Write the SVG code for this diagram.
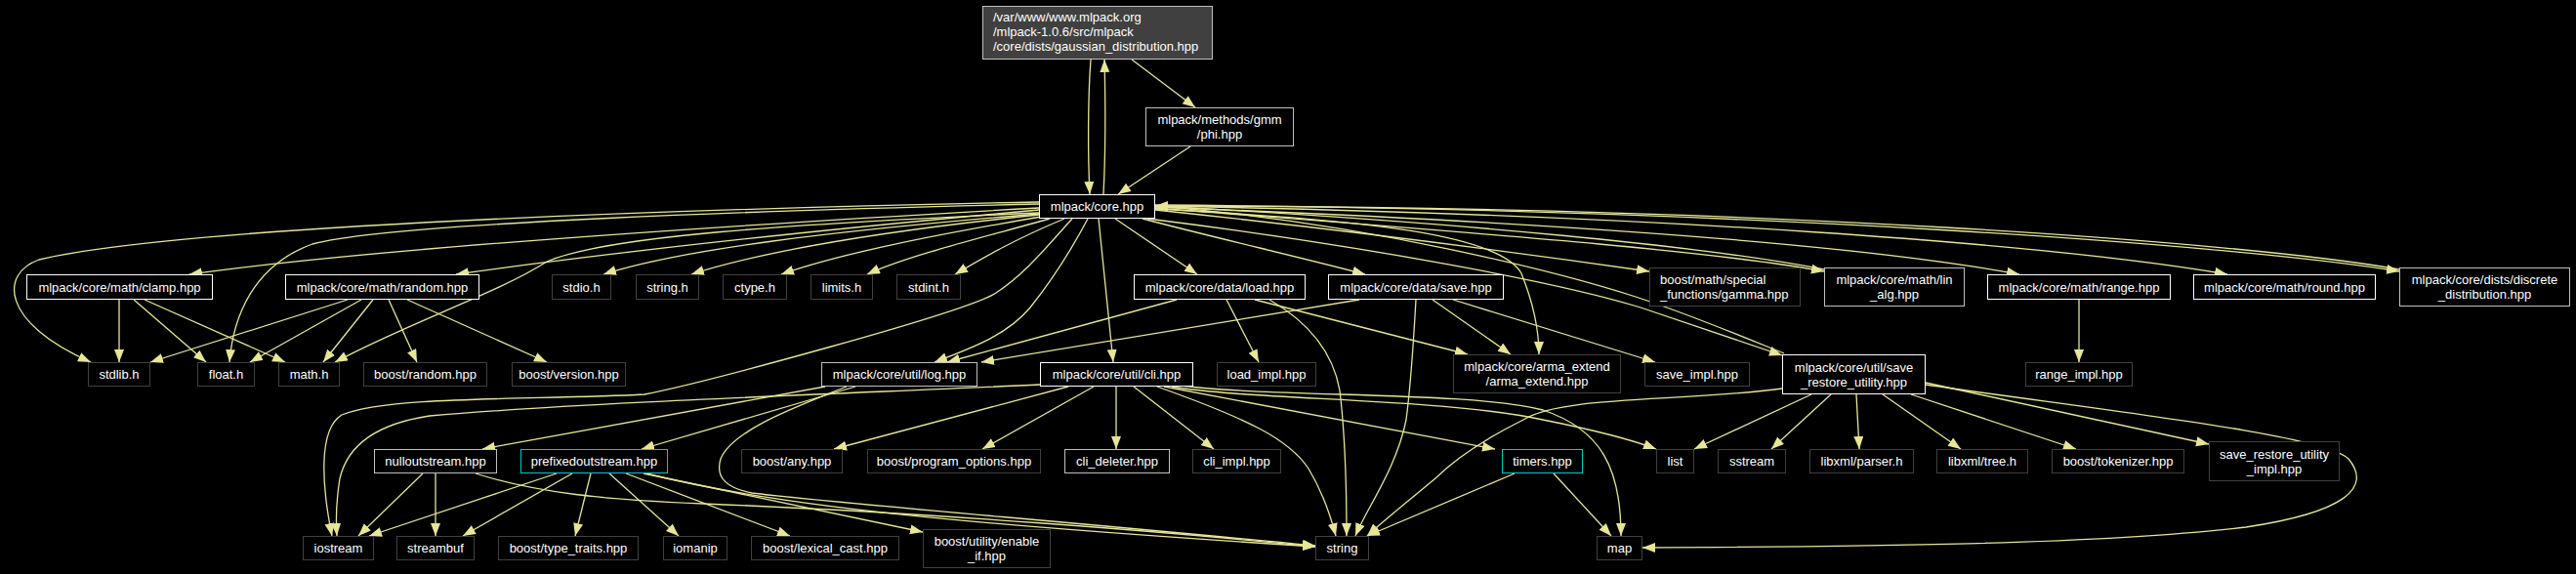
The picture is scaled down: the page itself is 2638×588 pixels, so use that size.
<svg xmlns="http://www.w3.org/2000/svg" width="2638" height="588" viewBox="0 0 2638 588">
<style>
.bg{fill:#000}
rect.n{fill:#000;stroke-width:1}
.w{stroke:#ffffff}
.g{stroke:#c0c0c0}
.x{stroke:#404040}
.c{stroke:#00cccc}
text{fill:#fff;font-family:"Liberation Sans",Arial,sans-serif;font-size:13px;text-anchor:middle}
text.l{text-anchor:start}
#edges path{fill:none;stroke:#e6e696;stroke-width:1.3;marker-end:url(#a)}
</style>
<defs>
<marker id="a" markerUnits="userSpaceOnUse" markerWidth="14" markerHeight="11" refX="13" refY="5" orient="auto"><path d="M0,0 L13,5 L0,10 z" fill="#e6e696"/></marker>
</defs>
<rect class="bg" x="0" y="0" width="2638" height="588"/>
<g id="edges">
<path d="M1117,61 C1114,100 1114,160 1116,199"/>
<path d="M1130,199 C1132,160 1132,100 1131,61"/>
<path d="M1159,61 L1224,110"/>
<path d="M1219,150 L1145,199"/>
<path d="M1064,207 C800,212 200,228 40,266 C0,280 0,330 93,371"/>
<path d="M1064,213 C850,225 400,252 194,281"/>
<path d="M1064,209 C800,215 400,228 320,250 C270,268 240,310 235,371"/>
<path d="M1064,215 C900,230 650,255 467,281"/>
<path d="M1064,218 C800,230 620,242 560,268 C510,300 420,330 343,371"/>
<path d="M1064,219 C850,237 700,255 618,281"/>
<path d="M1064,220 C900,237 780,258 708,281"/>
<path d="M1066,222 C950,242 860,260 800,281"/>
<path d="M1075,224 C1000,245 930,262 888,281"/>
<path d="M1090,224 C1040,245 1010,262 978,281"/>
<path d="M1098,224 C1070,255 1050,280 1020,300 C990,320 720,392 660,404 C550,410 400,405 350,425 C325,440 330,500 340,549"/>
<path d="M1114,224 C1095,260 1075,290 1055,315 C1030,345 990,358 957,371"/>
<path d="M1125,224 L1140,371"/>
<path d="M1142,224 L1226,281"/>
<path d="M1170,224 C1250,245 1330,263 1398,281"/>
<path d="M1183,214 C1400,225 1535,240 1558,280 C1570,310 1576,340 1576,363"/>
<path d="M1183,215 C1400,238 1550,258 1689,278"/>
<path d="M1183,213 C1500,238 1750,256 1868,278"/>
<path d="M1868,276 C1750,253 1500,228 1183,211"/>
<path d="M1183,212 C1600,228 1900,250 2068,281"/>
<path d="M1183,211 C1700,220 2100,250 2281,281"/>
<path d="M1183,210 C1800,214 2300,252 2457,278"/>
<path d="M2457,276 C2300,248 1800,211 1183,211"/>
<path d="M1175,224 C1400,252 1600,290 1680,315 C1740,335 1790,352 1825,364"/>
<path d="M1827,362 C1780,343 1730,322 1675,304 C1600,280 1400,228 1183,211"/>
<path d="M122,307 L122,371"/>
<path d="M137,307 L211,371"/>
<path d="M148,307 L292,371"/>
<path d="M356,307 L154,371"/>
<path d="M370,307 L256,371"/>
<path d="M382,307 L331,371"/>
<path d="M398,307 L427,371"/>
<path d="M417,307 L560,371"/>
<path d="M1205,307 L970,371"/>
<path d="M1256,307 L1289,371"/>
<path d="M1285,307 L1503,363"/>
<path d="M1300,307 C1340,330 1365,360 1372,400 C1378,450 1379,500 1379,549"/>
<path d="M1392,307 L1005,371"/>
<path d="M1467,307 L1547,363"/>
<path d="M1488,307 L1695,371"/>
<path d="M1450,307 C1447,360 1444,400 1440,430 C1430,480 1400,520 1388,549"/>
<path d="M2129,307 L2129,371"/>
<path d="M845,396 L494,460"/>
<path d="M876,396 L657,460"/>
<path d="M867,396 C820,415 750,440 738,470 C732,490 745,500 770,505 C850,515 1100,535 1347,559"/>
<path d="M433,485 L367,549"/>
<path d="M446,485 L446,549"/>
<path d="M487,485 C550,505 620,512 720,516 C950,525 1200,545 1347,560"/>
<path d="M570,485 L378,549"/>
<path d="M586,485 L474,549"/>
<path d="M605,485 L589,549"/>
<path d="M624,485 L695,549"/>
<path d="M641,485 L809,549"/>
<path d="M659,485 L945,545"/>
<path d="M662,485 C800,520 1000,538 1347,560"/>
<path d="M1065,394 C900,402 600,412 440,426 C380,435 355,460 348,490 C344,515 344,535 345,549"/>
<path d="M1094,396 L854,460"/>
<path d="M1120,396 L1006,460"/>
<path d="M1143,396 L1143,460"/>
<path d="M1161,396 L1243,460"/>
<path d="M1185,396 C1280,430 1320,450 1340,480 C1355,505 1363,530 1368,549"/>
<path d="M1192,396 L1531,460"/>
<path d="M1200,396 C1280,410 1480,408 1580,430 C1630,440 1670,450 1696,460"/>
<path d="M1202,394 C1300,408 1500,400 1580,420 C1640,440 1660,480 1660,549"/>
<path d="M1551,485 L1400,549"/>
<path d="M1591,485 L1650,549"/>
<path d="M1825,398 C1720,412 1600,405 1560,430 C1520,450 1490,470 1470,490 C1440,515 1415,535 1400,549"/>
<path d="M1855,404 L1735,460"/>
<path d="M1875,404 L1814,460"/>
<path d="M1901,404 L1904,460"/>
<path d="M1928,404 L2008,460"/>
<path d="M1957,404 L2126,460"/>
<path d="M1972,392 L2262,455"/>
<path d="M1972,394 C2150,420 2380,445 2405,470 C2430,500 2400,525 2300,540 C2150,558 1900,560 1682,561"/>
</g>
<g id="gaussian"><rect class="n g" x="1006.5" y="6.5" width="235" height="54" style="fill:#404040"/><text class="l" x="1017" y="21.5">/var/www/www.mlpack.org</text><text class="l" x="1017" y="36.5">/mlpack-1.0.6/src/mlpack</text><text class="l" x="1017" y="51.5">/core/dists/gaussian_distribution.hpp</text></g>
<g id="phi"><rect class="n g" x="1173.5" y="110.5" width="151" height="39"/><text x="1249" y="126.5">mlpack/methods/gmm</text><text x="1249" y="141.5">/phi.hpp</text></g>
<g id="core"><rect class="n w" x="1064.5" y="199.5" width="118" height="24"/><text x="1123.5" y="216">mlpack/core.hpp</text></g>
<g id="clamp"><rect class="n w" x="27.5" y="281.5" width="190" height="25"/><text x="122.5" y="298.5">mlpack/core/math/clamp.hpp</text></g>
<g id="random"><rect class="n w" x="292.5" y="281.5" width="198" height="25"/><text x="391.5" y="298.5">mlpack/core/math/random.hpp</text></g>
<g id="stdio"><rect class="n x" x="565.5" y="281.5" width="60" height="25"/><text x="595.5" y="298.5">stdio.h</text></g>
<g id="stringh"><rect class="n x" x="651.5" y="281.5" width="64" height="25"/><text x="683.5" y="298.5">string.h</text></g>
<g id="ctype"><rect class="n x" x="740.5" y="281.5" width="65" height="25"/><text x="773" y="298.5">ctype.h</text></g>
<g id="limits"><rect class="n x" x="830.5" y="281.5" width="63" height="25"/><text x="862" y="298.5">limits.h</text></g>
<g id="stdint"><rect class="n x" x="918.5" y="281.5" width="65" height="25"/><text x="951" y="298.5">stdint.h</text></g>
<g id="load"><rect class="n w" x="1161.5" y="281.5" width="175" height="25"/><text x="1249" y="298.5">mlpack/core/data/load.hpp</text></g>
<g id="save"><rect class="n w" x="1360.5" y="281.5" width="179" height="25"/><text x="1450" y="298.5">mlpack/core/data/save.hpp</text></g>
<g id="gamma"><rect class="n x" x="1689.5" y="274.5" width="154" height="39"/><text class="l" x="1700" y="291">boost/math/special</text><text class="l" x="1700" y="306">_functions/gamma.hpp</text></g>
<g id="linalg"><rect class="n g" x="1868.5" y="274.5" width="143" height="39"/><text x="1940" y="291">mlpack/core/math/lin</text><text x="1940" y="306">_alg.hpp</text></g>
<g id="range"><rect class="n w" x="2035.5" y="281.5" width="187" height="25"/><text x="2129" y="298.5">mlpack/core/math/range.hpp</text></g>
<g id="round"><rect class="n w" x="2246.5" y="281.5" width="186" height="25"/><text x="2339.5" y="298.5">mlpack/core/math/round.hpp</text></g>
<g id="discrete"><rect class="n g" x="2457.5" y="274.5" width="174" height="39"/><text x="2544.5" y="291">mlpack/core/dists/discrete</text><text x="2544.5" y="306">_distribution.hpp</text></g>
<g id="stdlib"><rect class="n x" x="90.5" y="371.5" width="63" height="24"/><text x="122" y="388">stdlib.h</text></g>
<g id="float"><rect class="n x" x="202.5" y="371.5" width="58" height="24"/><text x="231.5" y="388">float.h</text></g>
<g id="math"><rect class="n x" x="285.5" y="371.5" width="62" height="24"/><text x="316.5" y="388">math.h</text></g>
<g id="brandom"><rect class="n x" x="372.5" y="371.5" width="126" height="24"/><text x="435.5" y="388">boost/random.hpp</text></g>
<g id="bversion"><rect class="n x" x="524.5" y="371.5" width="116" height="24"/><text x="582.5" y="388">boost/version.hpp</text></g>
<g id="log"><rect class="n g" x="841.5" y="371.5" width="159" height="24"/><text x="921" y="388">mlpack/core/util/log.hpp</text></g>
<g id="cli"><rect class="n w" x="1065.5" y="371.5" width="156" height="24"/><text x="1143.5" y="388">mlpack/core/util/cli.hpp</text></g>
<g id="loadimpl"><rect class="n x" x="1246.5" y="371.5" width="101" height="24"/><text x="1297" y="388">load_impl.hpp</text></g>
<g id="arma"><rect class="n x" x="1488.5" y="363.5" width="171" height="39"/><text x="1574" y="380">mlpack/core/arma_extend</text><text x="1574" y="395">/arma_extend.hpp</text></g>
<g id="saveimpl"><rect class="n x" x="1684.5" y="371.5" width="107" height="24"/><text x="1738" y="388">save_impl.hpp</text></g>
<g id="sru"><rect class="n w" x="1825.5" y="363.5" width="146" height="40"/><text x="1898.5" y="380.5">mlpack/core/util/save</text><text x="1898.5" y="395.5">_restore_utility.hpp</text></g>
<g id="rangeimpl"><rect class="n x" x="2074.5" y="371.5" width="109" height="24"/><text x="2129" y="388">range_impl.hpp</text></g>
<g id="nullout"><rect class="n g" x="383.5" y="460.5" width="125" height="24"/><text x="446" y="477">nulloutstream.hpp</text></g>
<g id="prefixed"><rect class="n c" x="533.5" y="460.5" width="150" height="24"/><text x="608.5" y="477">prefixedoutstream.hpp</text></g>
<g id="bany"><rect class="n x" x="759.5" y="460.5" width="103" height="24"/><text x="811" y="477">boost/any.hpp</text></g>
<g id="bpo"><rect class="n x" x="888.5" y="460.5" width="177" height="24"/><text x="977" y="477">boost/program_options.hpp</text></g>
<g id="clideleter"><rect class="n g" x="1090.5" y="460.5" width="107" height="24"/><text x="1144" y="477">cli_deleter.hpp</text></g>
<g id="cliimpl"><rect class="n x" x="1221.5" y="460.5" width="90" height="24"/><text x="1266.5" y="477">cli_impl.hpp</text></g>
<g id="timers"><rect class="n c" x="1538.5" y="460.5" width="82" height="24"/><text x="1579.5" y="477">timers.hpp</text></g>
<g id="list"><rect class="n x" x="1696.5" y="460.5" width="38" height="24"/><text x="1715.5" y="477">list</text></g>
<g id="sstream"><rect class="n x" x="1759.5" y="460.5" width="69" height="24"/><text x="1794" y="477">sstream</text></g>
<g id="parser"><rect class="n x" x="1853.5" y="460.5" width="106" height="24"/><text x="1906.5" y="477">libxml/parser.h</text></g>
<g id="tree"><rect class="n x" x="1983.5" y="460.5" width="93" height="24"/><text x="2030" y="477">libxml/tree.h</text></g>
<g id="tokenizer"><rect class="n x" x="2101.5" y="460.5" width="135" height="24"/><text x="2169" y="477">boost/tokenizer.hpp</text></g>
<g id="sruimpl"><rect class="n x" x="2262.5" y="452.5" width="133" height="40"/><text x="2329" y="469.5">save_restore_utility</text><text x="2329" y="484.5">_impl.hpp</text></g>
<g id="iostream"><rect class="n x" x="310.5" y="549.5" width="72" height="24"/><text x="346.5" y="566">iostream</text></g>
<g id="streambuf"><rect class="n x" x="406.5" y="549.5" width="79" height="24"/><text x="446" y="566">streambuf</text></g>
<g id="typetraits"><rect class="n x" x="510.5" y="549.5" width="143" height="24"/><text x="582" y="566">boost/type_traits.hpp</text></g>
<g id="iomanip"><rect class="n x" x="679.5" y="549.5" width="65" height="24"/><text x="712" y="566">iomanip</text></g>
<g id="lexical"><rect class="n x" x="769.5" y="549.5" width="151" height="24"/><text x="845" y="566">boost/lexical_cast.hpp</text></g>
<g id="enableif"><rect class="n x" x="945.5" y="542.5" width="130" height="39"/><text x="1010.5" y="559">boost/utility/enable</text><text x="1010.5" y="574">_if.hpp</text></g>
<g id="string"><rect class="n x" x="1347.5" y="549.5" width="54" height="24"/><text x="1374.5" y="566">string</text></g>
<g id="map"><rect class="n x" x="1635.5" y="549.5" width="46" height="24"/><text x="1658.5" y="566">map</text></g>
</svg>
